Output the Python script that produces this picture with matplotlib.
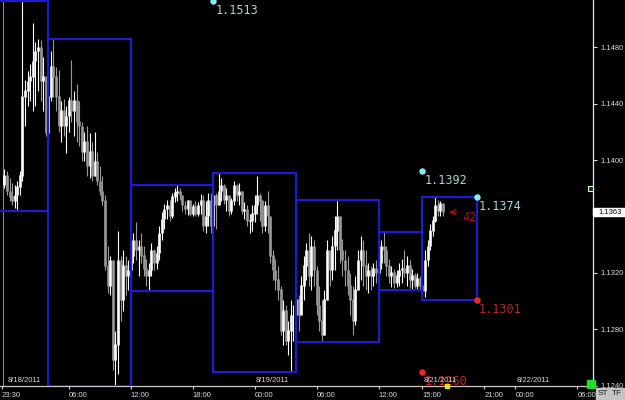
import matplotlib
matplotlib.use("Agg")
import matplotlib.pyplot as plt
from matplotlib.patches import Rectangle
from matplotlib.transforms import blended_transform_factory
import numpy as np

plt.rcParams['font.family'] = ['Liberation Sans', 'DejaVu Sans']

# ---- 15-minute bars (EUR/USD-like) ----
first_open = 1.1382
highs = [1.1394, 1.1392, 1.1387, 1.1384, 1.1382, 1.1385, 1.1392, 1.1513, 1.1457, 1.1463,
         1.1468, 1.1497, 1.1484, 1.1486, 1.1485, 1.1473, 1.1459, 1.1457, 1.1477, 1.1486,
         1.1466, 1.1464, 1.1442, 1.1443, 1.1438, 1.1445, 1.1471, 1.1449, 1.1454, 1.1442,
         1.1427, 1.1420, 1.1424, 1.1419, 1.1413, 1.1420, 1.1406, 1.1396, 1.1389, 1.1375,
         1.1339, 1.1332, 1.1311, 1.1279, 1.1350, 1.1332, 1.1336, 1.1332, 1.1329, 1.1336,
         1.1348, 1.1356, 1.1343, 1.1348, 1.1339, 1.1330, 1.1327, 1.1341, 1.1337, 1.1339,
         1.1353, 1.1363, 1.1369, 1.1372, 1.1372, 1.1377, 1.1380, 1.1382, 1.1380, 1.1375,
         1.1371, 1.1372, 1.1371, 1.1369, 1.1371, 1.1370, 1.1376, 1.1375, 1.1371, 1.1377,
         1.1377, 1.1378, 1.1377, 1.1391, 1.1387, 1.1383, 1.1380, 1.1375, 1.1373, 1.1385,
         1.1383, 1.1384, 1.1375, 1.1370, 1.1368, 1.1362, 1.1368, 1.1375, 1.1389, 1.1377,
         1.1371, 1.1371, 1.1378, 1.1360, 1.1336, 1.1330, 1.1325, 1.1311, 1.1301, 1.1297,
         1.1286, 1.1301, 1.1297, 1.1308, 1.1304, 1.1318, 1.1332, 1.1341, 1.1348, 1.1346,
         1.1343, 1.1325, 1.1311, 1.1301, 1.1308, 1.1343, 1.1336, 1.1346, 1.1360, 1.1372,
         1.1357, 1.1344, 1.1336, 1.1332, 1.1320, 1.1311, 1.1318, 1.1336, 1.1346, 1.1343,
         1.1336, 1.1327, 1.1325, 1.1327, 1.1329, 1.1332, 1.1343, 1.1349, 1.1339, 1.1330,
         1.1325, 1.1323, 1.1322, 1.1327, 1.1330, 1.1336, 1.1332, 1.1329, 1.1323, 1.1320,
         1.1320, 1.1318, 1.1309, 1.1336, 1.1343, 1.1355, 1.1360, 1.1374, 1.1372, 1.1371,
         1.1369]
lows = [1.1380, 1.1375, 1.1371, 1.1368, 1.1366, 1.1364, 1.1375, 1.1385, 1.1424, 1.1438,
        1.1442, 1.1435, 1.1438, 1.1449, 1.1442, 1.1435, 1.1417, 1.1412, 1.1442, 1.1445,
        1.1435, 1.1420, 1.1413, 1.1417, 1.1405, 1.1420, 1.1427, 1.1417, 1.1413, 1.1410,
        1.1399, 1.1399, 1.1389, 1.1387, 1.1385, 1.1389, 1.1382, 1.1375, 1.1368, 1.1322,
        1.1306, 1.1304, 1.1251, 1.1240, 1.1248, 1.1286, 1.1293, 1.1304, 1.1308, 1.1315,
        1.1327, 1.1329, 1.1318, 1.1327, 1.1318, 1.1311, 1.1307, 1.1318, 1.1322, 1.1323,
        1.1329, 1.1343, 1.1351, 1.1358, 1.1357, 1.1359, 1.1370, 1.1371, 1.1372, 1.1364,
        1.1362, 1.1361, 1.1360, 1.1360, 1.1360, 1.1360, 1.1362, 1.1350, 1.1348, 1.1353,
        1.1348, 1.1351, 1.1351, 1.1368, 1.1371, 1.1369, 1.1364, 1.1360, 1.1362, 1.1368,
        1.1371, 1.1368, 1.1362, 1.1358, 1.1353, 1.1348, 1.1350, 1.1356, 1.1362, 1.1357,
        1.1348, 1.1350, 1.1348, 1.1327, 1.1315, 1.1308, 1.1301, 1.1276, 1.1269, 1.1269,
        1.1262, 1.1250, 1.1272, 1.1279, 1.1279, 1.1290, 1.1301, 1.1315, 1.1311, 1.1308,
        1.1311, 1.1290, 1.1279, 1.1271, 1.1276, 1.1308, 1.1311, 1.1315, 1.1322, 1.1336,
        1.1327, 1.1318, 1.1311, 1.1304, 1.1290, 1.1276, 1.1283, 1.1308, 1.1315, 1.1311,
        1.1308, 1.1306, 1.1308, 1.1311, 1.1313, 1.1315, 1.1323, 1.1327, 1.1318, 1.1313,
        1.1310, 1.1309, 1.1310, 1.1311, 1.1313, 1.1317, 1.1311, 1.1309, 1.1308, 1.1309,
        1.1308, 1.1308, 1.1301, 1.1303, 1.1325, 1.1336, 1.1346, 1.1356, 1.1360, 1.1360,
        1.1360]
closes = [1.1389, 1.1378, 1.1374, 1.1371, 1.1375, 1.1381, 1.1389, 1.1445, 1.1449, 1.1456,
          1.1459, 1.1470, 1.1477, 1.1480, 1.1456, 1.1459, 1.1419, 1.1445, 1.1466, 1.1459,
          1.1445, 1.1424, 1.1435, 1.1424, 1.1431, 1.1442, 1.1435, 1.1442, 1.1427, 1.1424,
          1.1406, 1.1413, 1.1396, 1.1406, 1.1389, 1.1399, 1.1385, 1.1378, 1.1371, 1.1325,
          1.1311, 1.1329, 1.1258, 1.1269, 1.1329, 1.1301, 1.1325, 1.1318, 1.1322, 1.1332,
          1.1343, 1.1336, 1.1339, 1.1332, 1.1323, 1.1318, 1.1322, 1.1336, 1.1327, 1.1334,
          1.1348, 1.1358, 1.1365, 1.1368, 1.1360, 1.1374, 1.1377, 1.1378, 1.1375, 1.1368,
          1.1365, 1.1371, 1.1362, 1.1367, 1.1362, 1.1368, 1.1371, 1.1353, 1.1360, 1.1371,
          1.1353, 1.1375, 1.1368, 1.1378, 1.1382, 1.1372, 1.1375, 1.1364, 1.1371, 1.1382,
          1.1375, 1.1378, 1.1364, 1.1365, 1.1357, 1.1357, 1.1362, 1.1368, 1.1375, 1.1371,
          1.1353, 1.1368, 1.1360, 1.1332, 1.1322, 1.1315, 1.1308, 1.1279, 1.1293, 1.1272,
          1.1279, 1.1290, 1.1290, 1.1301, 1.1290, 1.1311, 1.1325, 1.1336, 1.1318, 1.1339,
          1.1322, 1.1297, 1.1286, 1.1276, 1.1301, 1.1336, 1.1322, 1.1339, 1.1350, 1.1360,
          1.1336, 1.1329, 1.1322, 1.1311, 1.1301, 1.1286, 1.1308, 1.1329, 1.1336, 1.1325,
          1.1318, 1.1322, 1.1318, 1.1323, 1.1320, 1.1327, 1.1339, 1.1336, 1.1325, 1.1318,
          1.1320, 1.1313, 1.1318, 1.1322, 1.1323, 1.1320, 1.1325, 1.1315, 1.1318, 1.1311,
          1.1316, 1.1311, 1.1307, 1.1329, 1.1339, 1.1350, 1.1357, 1.1368, 1.1364, 1.1369,
          1.1363]

# session boundaries (bar index) for the high/low boxes
session_bounds = [-10, 17, 49, 81, 113, 145, 162, 183]

# x axis labels (bar index positions)
xtick_pos = [-1, 25, 49, 73, 97, 121, 145, 162, 186, 198, 222]
xtick_labels = ["23:30", "06:00", "12:00", "18:00", "00:00", "06:00", "12:00",
                "15:00", "21:00", "00:00", "06:00"]
date_pos = [1, 97, 162, 198]
date_labels = ["8/18/2011", "8/19/2011", "8/21/2011", "8/22/2011"]

ytick_vals = [1.1240, 1.1280, 1.1320, 1.1360, 1.1400, 1.1440, 1.1480]
ytick_labels = ["1.1240", "1.1280", "1.1320", "", "1.1400", "1.1440", "1.1480"]
current_price = 1.1363
current_label = "1.1363"

marker_x = [81, 162, 183, 183, 162]
marker_y = [1.1513, 1.1392, 1.1374, 1.1301, 1.1250]
marker_text = ["1.1513", "1.1392", "1.1374", "1.1301", "1.1260"]
marker_kind = ["hi", "hi", "hi", "lo", "lo"]

arrow_text = "42"
arrow_price = 1.1363

# ---- figure ----
fig = plt.figure(figsize=(6.25, 4), dpi=100, facecolor='black')
ax = fig.add_axes([0, 14 / 400, 593 / 625, 386 / 400])
ax.set_facecolor('black')

n = len(closes)
x = np.arange(n)
opens = [first_open] + closes[:-1]
up_col, dn_col = '#ffffff', '#9a9a9a'
cols = [up_col if c >= o else dn_col for o, c in zip(opens, closes)]
wick_lo = [min(l, o, c) for l, o, c in zip(lows, opens, closes)]
wick_hi = [max(h, o, c) for h, o, c in zip(highs, opens, closes)]
ax.vlines(x, wick_lo, wick_hi, colors=cols, lw=0.8, zorder=3)
ax.vlines(x, np.minimum(opens, closes), np.maximum(opens, closes) + 0.00004,
          colors=cols, lw=1.9, zorder=3)

# session boxes
hl = np.array(highs)
ll = np.array(lows)
for s, e in zip(session_bounds[:-1], session_bounds[1:]):
    idx = (x >= s) & (x < e)
    hi_v = hl[idx].max()
    lo_v = ll[idx].min()
    ax.add_patch(Rectangle((s, lo_v), e - s, hi_v - lo_v, fill=False,
                           ec='#1c1cd2', lw=1.5, zorder=4))

ax.axvline(-0.55, color='#8a8a8a', lw=0.8, zorder=2)

ax.set_xlim(-1.705, 228.1)
ax.set_ylim(1.12398, 1.15135)

for sp in ['top', 'left']:
    ax.spines[sp].set_visible(False)
ax.spines['right'].set_color('#e8e8e8')
ax.spines['right'].set_linewidth(0.9)
ax.spines['bottom'].set_color('#c8c8c8')
ax.spines['bottom'].set_linewidth(0.9)

ax.yaxis.tick_right()
ax.set_yticks(ytick_vals, ytick_labels)
ax.tick_params(axis='y', colors='#dcdcdc', labelsize=5.5, length=3, width=0.8, pad=2.5)
ax.set_xticks(xtick_pos, xtick_labels)
ax.tick_params(axis='x', colors='#dcdcdc', labelsize=5.5, length=2.5, width=0.8, pad=1.5)
for lbl in ax.get_xticklabels():
    lbl.set_horizontalalignment('left')

bt = blended_transform_factory(ax.transData, ax.transAxes)
for p, lab in zip(date_pos, date_labels):
    ax.text(p + 0.4, 0.006, lab, transform=bt, color='#d8d8d8', fontsize=5.5,
            ha='left', va='bottom', zorder=8)

# high/low markers
for mx, my, mt, mk in zip(marker_x, marker_y, marker_text, marker_kind):
    dot_c = '#7ff4f4' if mk == 'hi' else '#ff2424'
    txt_c = '#a6d6d6' if mk == 'hi' else '#b82828'
    ax.plot([mx], [my], 'o', ms=3.6, color=dot_c, clip_on=False, zorder=6)
    ax.annotate(mt, (mx, my), xytext=(1.6, -6.8), textcoords='offset points',
                ha='left', va='center', family='DejaVu Sans Mono', fontsize=8.5,
                color=txt_c, annotation_clip=False, zorder=6)

# arrow + count
ax.annotate('', xy=(171.2, arrow_price), xytext=(176.4, arrow_price),
            arrowprops=dict(arrowstyle='->', color='#a01818', lw=0.9), zorder=6)
ax.annotate(arrow_text, (176.4, arrow_price), xytext=(2, -4), textcoords='offset points',
            ha='left', va='center', family='DejaVu Sans Mono', fontsize=8.5,
            color='#a01818', zorder=6)

# current price box on the right axis
ba = blended_transform_factory(ax.transAxes, ax.transData)
ax.add_patch(Rectangle((1.0, current_price - 0.00029), 32 / 593, 0.00058, transform=ba,
                       fc='white', ec='white', clip_on=False, zorder=10))
ax.text(1.0 + 5 / 593, current_price, current_label, transform=ba, fontsize=5.5,
        color='black', ha='left', va='center', clip_on=False, zorder=11)

# small icons
ax.plot([227], [1.1380], 's', ms=3.6, mfc='#103010', mec='#e0ffe0', mew=0.8,
        clip_on=False, zorder=7)
ax.plot([227.2], [1.12415], 's', ms=6, color='#22dd22', clip_on=False, zorder=7)
ax.plot([171.5], [0.0], 's', ms=2.2, color='#e8e800', transform=bt, clip_on=False, zorder=7)

fig.text(598 / 625, 3 / 400, 'ST', fontsize=6, color='#202020', ha='left', va='bottom',
         bbox=dict(boxstyle='square,pad=0.3', fc='#c4c4c4', ec='#c4c4c4'), zorder=10)
fig.text(612 / 625, 3 / 400, 'TF', fontsize=6, color='#202020', ha='left', va='bottom',
         bbox=dict(boxstyle='square,pad=0.3', fc='#c4c4c4', ec='#c4c4c4'), zorder=10)

fig.savefig('out.png', dpi=100, facecolor='black')
